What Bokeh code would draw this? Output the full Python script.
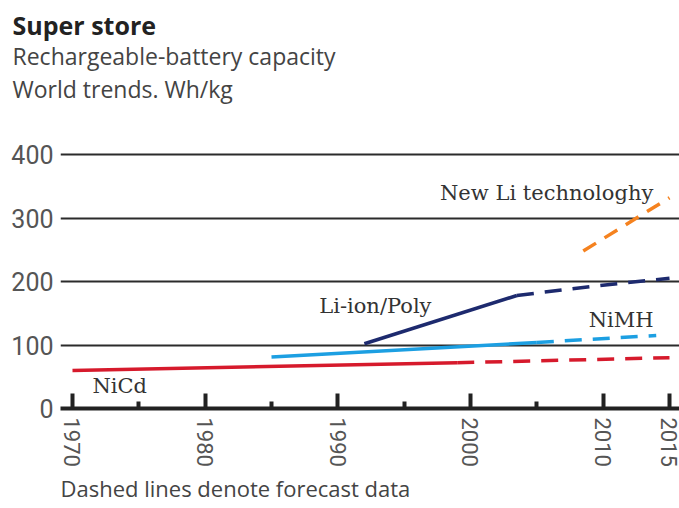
from bokeh.plotting import figure
from bokeh.models import FixedTicker, Range1d, Title, ColumnDataSource
from bokeh.core.properties import value
from bokeh.embed import file_html
from bokeh.resources import INLINE

# ---- data ----
nicd_years = [1970, 1999]
nicd_vals = [60, 72]
nicd_fc_years = [1999, 2015]
nicd_fc_vals = [72, 80]

nimh_years = [1985, 2005]
nimh_vals = [81, 104]
nimh_fc_years = [2005, 2014]
nimh_fc_vals = [104, 115]

liion_years = [1992, 2003.5]
liion_vals = [102, 178]
liion_fc_years = [2003.5, 2009, 2015]
liion_fc_vals = [178, 192, 205]

newli_fc_years = [2008.5, 2015]
newli_fc_vals = [248, 332]

x_ticks = [1970, 1980, 1990, 2000, 2010, 2015]
x_minor_ticks = [1975, 1985, 1995, 2005]
y_ticks = [0, 100, 200, 300, 400]

series_names = ["New Li technologhy", "Li-ion/Poly", "NiMH", "NiCd"]

# label placement (annotation positions, not data)
name_x = [1997.7, 1988.6, 2013.8, 1971.5]
name_y = [340, 162, 139, 36]
name_align = ["left", "left", "right", "left"]

RED = "#d61a2c"
LBLUE = "#1c9fe2"
NAVY = "#1d2a6e"
ORANGE = "#f5821f"

p = figure(width=679, height=508,
           x_range=Range1d(1969.096, 2015.754), y_range=Range1d(0, 406.3),
           output_backend="svg", toolbar_location=None,
           min_border_left=60, min_border_right=0,
           min_border_top=150, min_border_bottom=100)
p.outline_line_color = None
p.background_fill_color = "white"

# axes
p.xaxis.ticker = FixedTicker(ticks=x_ticks, minor_ticks=x_minor_ticks)
p.xaxis.axis_line_width = 4
p.xaxis.axis_line_color = "#222222"
p.xaxis.major_tick_in = 15
p.xaxis.major_tick_out = 0
p.xaxis.minor_tick_in = 7
p.xaxis.minor_tick_out = 0
p.xaxis.major_tick_line_width = 4
p.xaxis.minor_tick_line_width = 4
p.xaxis.major_tick_line_color = "#222222"
p.xaxis.minor_tick_line_color = "#222222"
p.xaxis.major_label_orientation = "vertical"
p.xaxis.major_label_standoff = 9
p.xaxis.major_label_text_font = "Roboto"
p.xaxis.major_label_text_font_size = "22px"
p.xaxis.major_label_text_color = "#555555"

p.yaxis.ticker = FixedTicker(ticks=y_ticks)
p.yaxis.axis_line_color = None
p.yaxis.major_tick_line_color = None
p.yaxis.minor_tick_line_color = None
p.yaxis.major_label_standoff = 1
p.yaxis.major_label_text_font = "Roboto"
p.yaxis.major_label_text_font_size = "25px"
p.yaxis.major_label_text_color = "#555555"

p.xgrid.grid_line_color = None
p.ygrid.ticker = FixedTicker(ticks=[t for t in y_ticks if t > 0])
p.ygrid.grid_line_color = "#2b2b2b"
p.ygrid.grid_line_width = 2

DASH = "17 11"
LW = 3.5
p.line(nicd_years, nicd_vals, line_color=RED, line_width=LW)
p.line(nicd_fc_years, nicd_fc_vals, line_color=RED, line_width=LW, line_dash=DASH)
p.line(nimh_years, nimh_vals, line_color=LBLUE, line_width=LW)
p.line(nimh_fc_years, nimh_fc_vals, line_color=LBLUE, line_width=LW, line_dash=DASH)
p.line(liion_years, liion_vals, line_color=NAVY, line_width=LW)
p.line(liion_fc_years, liion_fc_vals, line_color=NAVY, line_width=LW, line_dash=DASH)
p.line(newli_fc_years, newli_fc_vals, line_color=ORANGE, line_width=LW, line_dash="15 10")

src = ColumnDataSource(dict(x=name_x, y=name_y, t=series_names, a=name_align))
p.text(x="x", y="y", text="t", text_align="a", text_baseline="middle",
       text_font=value("DejaVu Serif"), text_font_size="21px", text_color="#333333",
       source=src)

# header (first added sits closest to the plot); a blank spacer title gives the gap
p.add_layout(Title(text=" ", align="left", standoff=33.5, text_font_size="10px"), "above")
p.add_layout(Title(text="World trends. Wh/kg", align="left", offset=-48, standoff=-3,
                   text_font="Open Sans", text_font_style="normal", text_font_size="23px",
                   text_color="#444444"), "above")
p.add_layout(Title(text="Rechargeable-battery capacity", align="left", offset=-48, standoff=1,
                   text_font="Open Sans", text_font_style="normal", text_font_size="23px",
                   text_color="#444444"), "above")
p.add_layout(Title(text="Super store", align="left", offset=-48, standoff=-9,
                   text_font="Open Sans", text_font_style="bold", text_font_size="25px",
                   text_color="#222222"), "above")
# footnote
p.add_layout(Title(text="Dashed lines denote forecast data", align="left", offset=0, standoff=2.5,
                   text_font="Open Sans", text_font_style="normal", text_font_size="22px",
                   text_color="#444444"), "below")

open("out.html", "w").write(file_html(p, INLINE))
